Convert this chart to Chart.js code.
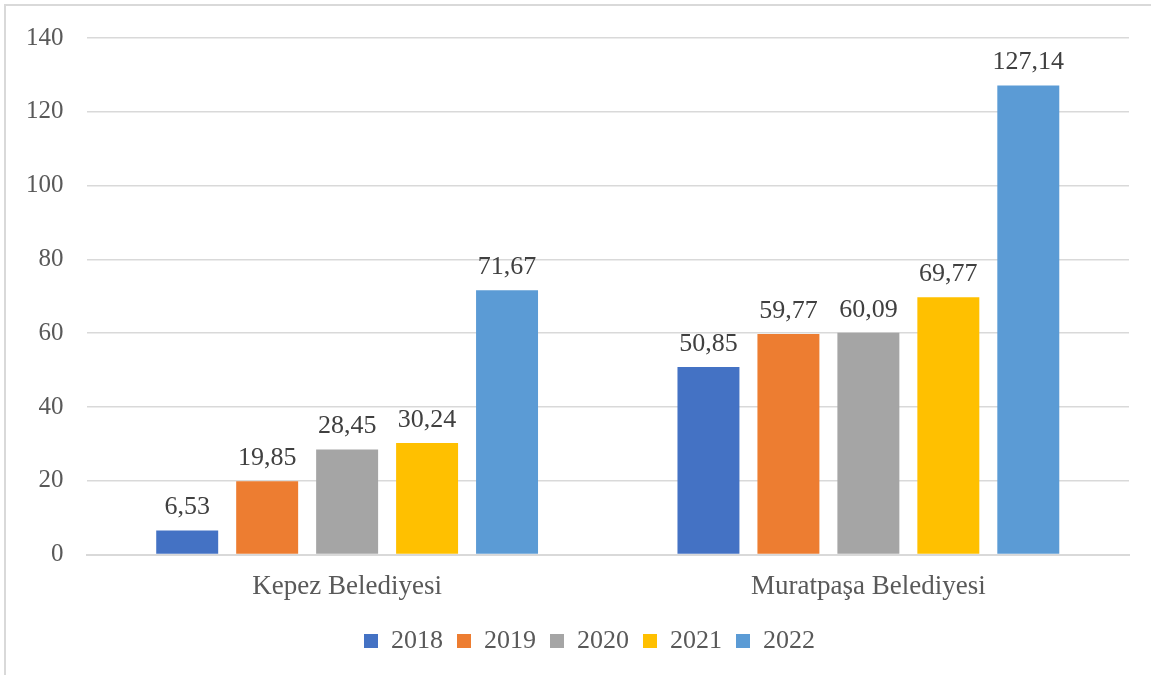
<!DOCTYPE html>
<html>
<head>
<meta charset="utf-8">
<script src="https://cdn.jsdelivr.net/npm/chart.js@4"></script>
<style>
  html, body { margin: 0; padding: 0; background: #fff; }
  #wrap { position: relative; width: 1151px; height: 675px; }
  #frame { position: absolute; left: 4px; top: 4px; right: -10px; bottom: -10px;
           border-left: 2px solid #d9d9d9; border-top: 2px solid #d9d9d9; }
</style>
</head>
<body>
<div id="wrap">
  <div id="frame"></div>
  <canvas id="muni-chart" width="1151" height="675"></canvas>
</div>
<script>
const categories = ["Kepez Belediyesi", "Muratpaşa Belediyesi"];
const years = ["2018", "2019", "2020", "2021", "2022"];
const values2018 = [6.53, 50.85];
const values2019 = [19.85, 59.77];
const values2020 = [28.45, 60.09];
const values2021 = [30.24, 69.77];
const values2022 = [71.67, 127.14];
const colors = ["#4472C4", "#ED7D31", "#A5A5A5", "#FFC000", "#5B9BD5"];

const seriesValues = [values2018, values2019, values2020, values2021, values2022];
const fontFamily = "'Liberation Serif', 'Times New Roman', serif";

// value labels above the bars, decimal comma like the original
const barLabels = {
  id: "barLabels",
  afterDatasetsDraw(chart) {
    const ctx = chart.ctx;
    ctx.save();
    ctx.font = "26px " + fontFamily;
    ctx.fillStyle = "#404040";
    ctx.textAlign = "center";
    ctx.textBaseline = "bottom";
    chart.data.datasets.forEach((ds, i) => {
      chart.getDatasetMeta(i).data.forEach((bar, j) => {
        const txt = ds.data[j].toFixed(2).replace(".", ",");
        ctx.fillText(txt, bar.x, bar.y - 10);
      });
    });
    ctx.restore();
  },
};

// legend in the original sits a bit right of centre and a little higher
const legendShift = {
  id: "legendShift",
  afterLayout(chart) {
    chart.legend.left += 47;
    chart.legend.top -= 5;
    chart.legend.bottom -= 5;
  },
};

new Chart(document.getElementById("muni-chart"), {
  type: "bar",
  data: {
    labels: categories,
    datasets: years.map((y, i) => ({
      label: y,
      data: seriesValues[i],
      backgroundColor: colors[i],
      barPercentage: 0.775,
      categoryPercentage: 0.767,
    })),
  },
  options: {
    responsive: false,
    animation: false,
    layout: { padding: { left: 3, right: 22, top: 18, bottom: 6 } },
    plugins: {
      legend: {
        position: "bottom",
        labels: {
          font: { family: fontFamily, size: 26 },
          color: "#595959",
          boxWidth: 14,
          boxHeight: 14,
          padding: 14,
        },
      },
      tooltip: { enabled: false },
    },
    scales: {
      x: {
        grid: { display: false, drawTicks: false },
        border: { color: "#d9d9d9", width: 2 },
        ticks: { font: { family: fontFamily, size: 27 }, color: "#595959", padding: 16 },
      },
      y: {
        min: 0,
        max: 140,
        grid: { color: "#d9d9d9", lineWidth: 1.5, drawTicks: false },
        border: { display: false },
        ticks: { stepSize: 20, font: { family: fontFamily, size: 25 }, color: "#595959", padding: 23 },
      },
    },
  },
  plugins: [barLabels, legendShift],
});
</script>
</body>
</html>
